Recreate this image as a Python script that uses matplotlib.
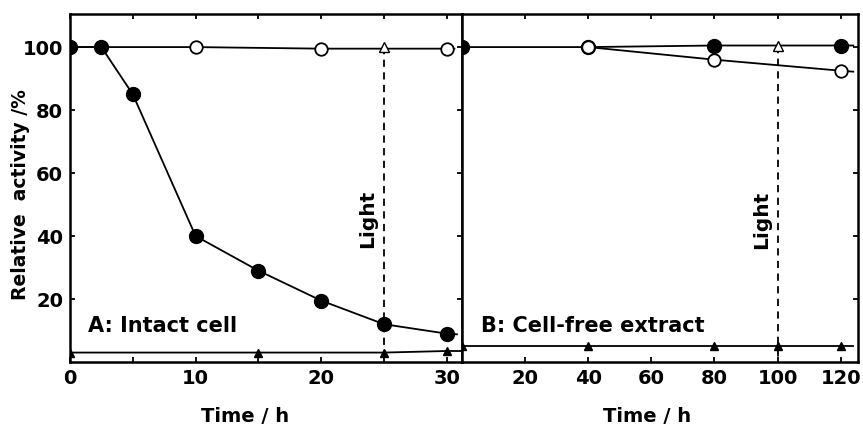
import matplotlib
matplotlib.use("Agg")
import matplotlib.pyplot as plt
from matplotlib.ticker import MultipleLocator

# Panel A: intact cell
a_time_open = [0, 10, 20, 30]
a_open = [100, 100, 99.5, 99.5]
a_time_filled = [0, 2.5, 5, 10, 15, 20, 25, 30]
a_filled = [100, 100, 85, 40, 29, 19.5, 12, 9]
a_time_tri = [0, 15, 25, 30]
a_tri = [3, 3, 3, 3.5]
a_light_time = 25
a_light_val = 100

# Panel B: cell-free extract
b_time_filled = [0, 40, 80, 120]
b_filled = [100, 100, 100.5, 100.5]
b_time_open = [0, 40, 80, 120]
b_open = [100, 100, 96, 92.5]
b_time_tri = [0, 40, 80, 100, 120]
b_tri = [5, 5, 5, 5, 5]
b_light_time = 100
b_light_val = 100.5

a_xticks = [0, 10, 20, 30]
b_xticks = [20, 40, 60, 80, 100, 120]
yticks = [20, 40, 60, 80, 100]

plt.rcParams['font.family'] = 'DejaVu Sans'
plt.rcParams['font.weight'] = 'bold'

fig = plt.figure(figsize=(8.63, 4.30), dpi=100)
axA = fig.add_axes([0.0811, 0.1581, 0.4542, 0.8093])
axB = fig.add_axes([0.5353, 0.1581, 0.4589, 0.8093])


def style(ax):
    for s in ax.spines.values():
        s.set_linewidth(1.8)
    ax.tick_params(which='both', direction='in', length=3.5, width=1.3,
                   labelsize=14, top=True, right=True, pad=5)
    for lab in ax.get_xticklabels() + ax.get_yticklabels():
        lab.set_fontweight('bold')


# Panel A
axA.plot(a_time_open + [30.6], a_open + [a_open[-1]], color='black', lw=1.3, zorder=3)
axA.plot(a_time_open, a_open, ls='none', marker='o', ms=9, mfc='white', mec='black', mew=1.3, zorder=4)
axA.plot(a_time_filled + [30.8], a_filled + [8.8], color='black', lw=1.3, zorder=3)
axA.plot(a_time_filled, a_filled, ls='none', marker='o', ms=10, mfc='black', mec='black', zorder=4)
axA.plot(a_time_tri + [31.2], a_tri + [a_tri[-1]], color='black', lw=1.3, zorder=3)
axA.plot(a_time_tri, a_tri, ls='none', marker='^', ms=6, mfc='black', mec='black', zorder=4)
axA.plot([a_light_time, a_light_time], [a_light_val, 0], ls='--', color='black', lw=1.3, dashes=(4, 3), zorder=2)
axA.plot([a_light_time], [a_light_val], ls='none', marker='^', ms=7, mfc='white', mec='black', mew=1.0, zorder=4)
axA.text(23.7, 45.5, 'Light', rotation=90, fontsize=14.5, fontweight='bold', ha='center', va='center')
axA.text(1.4, 11.5, 'A: Intact cell', fontsize=15, fontweight='bold', ha='left', va='center')
axA.set_xlim(0, 31.2)
axA.set_ylim(0, 110.5)
axA.set_xticks(a_xticks)
axA.xaxis.set_minor_locator(MultipleLocator(5))
axA.set_yticks(yticks)
style(axA)

# Panel B
axB.plot(b_time_filled + [124], b_filled + [b_filled[-1]], color='black', lw=1.3, zorder=3)
axB.plot(b_time_filled, b_filled, ls='none', marker='o', ms=10, mfc='black', mec='black', zorder=4)
axB.plot(b_time_open[1:] + [124], b_open[1:] + [92.2], color='black', lw=1.3, zorder=3)
axB.plot(b_time_open[1:], b_open[1:], ls='none', marker='o', ms=9, mfc='white', mec='black', mew=1.3, zorder=4)
axB.plot(b_time_tri + [124], b_tri + [b_tri[-1]], color='black', lw=1.3, zorder=3)
axB.plot(b_time_tri, b_tri, ls='none', marker='^', ms=6, mfc='black', mec='black', zorder=4)
axB.plot([b_light_time, b_light_time], [b_light_val, 0], ls='--', color='black', lw=1.3, dashes=(4, 3), zorder=2)
axB.plot([b_light_time], [b_light_val], ls='none', marker='^', ms=7, mfc='white', mec='black', mew=1.0, zorder=4)
axB.text(95, 45, 'Light', rotation=90, fontsize=14.5, fontweight='bold', ha='center', va='center')
axB.text(6, 11.5, 'B: Cell-free extract', fontsize=15, fontweight='bold', ha='left', va='center')
axB.set_xlim(0, 125.5)
axB.set_ylim(0, 110.5)
axB.set_xticks(b_xticks)
axB.set_yticks(yticks)
axB.set_yticklabels([])
style(axB)
axB.tick_params(left=False)

# axis labels placed to match the original layout
fig.text(21 / 863, 1 - 195 / 430, 'Relative  activity /%', rotation=90, fontsize=13.5,
         fontweight='bold', ha='center', va='center')
fig.text(245 / 863, 1 - 417 / 430, 'Time / h', fontsize=14, fontweight='bold', ha='center', va='center')
fig.text(647 / 863, 1 - 417 / 430, 'Time / h', fontsize=14, fontweight='bold', ha='center', va='center')

fig.savefig('out.png', dpi=100)
